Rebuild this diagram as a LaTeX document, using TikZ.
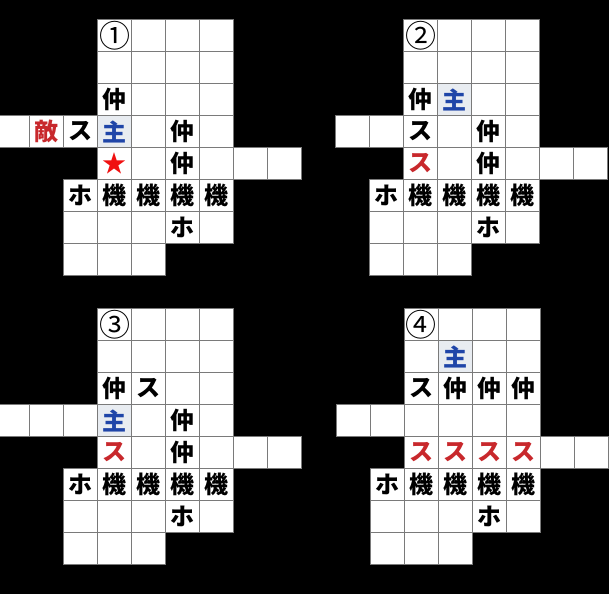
\documentclass[tikz,border=0pt]{standalone}
\usepackage{fontspec}
\newfontfamily\jpfont{Noto Sans CJK JP}
\definecolor{gridgray}{HTML}{7A7A7A}
\definecolor{mainfill}{HTML}{E8ECF1}
\definecolor{mainblue}{HTML}{1F45A8}
\definecolor{foered}{HTML}{C8282C}
\definecolor{starred}{HTML}{F01010}
\tikzset{
  sq/.style={draw=gridgray, fill=white, line width=0.9pt, minimum width=34pt,
    minimum height=32pt, inner sep=0pt, outer sep=0pt},
  txt/.style={font=\jpfont\bfseries\fontsize{24}{24}\selectfont, inner sep=0pt},
  num/.style={font=\jpfont\fontsize{31}{31}\selectfont, inner sep=0pt},
  mainsq/.style={sq, fill=mainfill, txt, text=mainblue},
  foe/.style={txt, text=foered},
}
% one board: #1 = panel name, #2 = first column of row 3
\newcommand\board[2]{%
  \foreach \r in {0,1,2} \foreach \c in {3,...,6}
    \node[sq] (#1-\c-\r) at (\c+0.5,\r+0.5) {};
  \foreach \c in {#2,...,6} \node[sq] (#1-\c-3) at (\c+0.5,3.5) {};
  \foreach \c in {3,...,8} \node[sq] (#1-\c-4) at (\c+0.5,4.5) {};
  \foreach \r in {5,6} \foreach \c in {2,...,6}
    \node[sq] (#1-\c-\r) at (\c+0.5,\r+0.5) {};
  \foreach \c in {2,3,4} \node[sq] (#1-\c-7) at (\c+0.5,7.5) {};
  % machines and holes
  \foreach \c in {3,...,6} \node[txt] at (#1-\c-5) {機};
  \node[txt] at (#1-2-5) {ホ};
  \node[txt] at (#1-5-6) {ホ};
}
\begin{document}
\begin{tikzpicture}
  \fill[black] (0,0) rectangle (609pt,-594pt);
  \useasboundingbox (0,0) rectangle (609pt,-594pt);

  % 1
  \begin{scope}[shift={(-4.5pt,-19.5pt)}, x=34pt, y=-32pt]
    \board{p1}{0}
    \node[num] at (p1-3-0) {①};
    \node[txt] at (p1-3-2) {仲};
    \node[foe] at (p1-1-3) {敵};
    \node[txt] at (p1-2-3) {ス};
    \node[mainsq] (p1-main) at (p1-3-3) {主};
    \node[txt] at (p1-5-3) {仲};
    \node[txt, text=starred] at (p1-3-4) {★};
    \node[txt] at (p1-5-4) {仲};
  \end{scope}

  % 2
  \begin{scope}[shift={(301.5pt,-19.5pt)}, x=34pt, y=-32pt]
    \board{p2}{1}
    \node[num] at (p2-3-0) {②};
    \node[txt] at (p2-3-2) {仲};
    \node[mainsq] (p2-main) at (p2-4-2) {主};
    \node[txt] at (p2-3-3) {ス};
    \node[txt] at (p2-5-3) {仲};
    \node[foe] at (p2-3-4) {ス};
    \node[txt] at (p2-5-4) {仲};
  \end{scope}

  % 3
  \begin{scope}[shift={(-4.5pt,-308.5pt)}, x=34pt, y=-32pt]
    \board{p3}{0}
    \node[num] at (p3-3-0) {③};
    \node[txt] at (p3-3-2) {仲};
    \node[txt] at (p3-4-2) {ス};
    \node[mainsq] (p3-main) at (p3-3-3) {主};
    \node[txt] at (p3-5-3) {仲};
    \node[foe] at (p3-3-4) {ス};
    \node[txt] at (p3-5-4) {仲};
  \end{scope}

  % 4
  \begin{scope}[shift={(302pt,-308.5pt)}, x=34pt, y=-32pt]
    \board{p4}{1}
    \node[num] at (p4-3-0) {④};
    \node[mainsq] (p4-main) at (p4-4-1) {主};
    \node[txt] at (p4-3-2) {ス};
    \foreach \c in {4,5,6} \node[txt] at (p4-\c-2) {仲};
    \foreach \c in {3,...,6} \node[foe] at (p4-\c-4) {ス};
  \end{scope}
\end{tikzpicture}
\end{document}
